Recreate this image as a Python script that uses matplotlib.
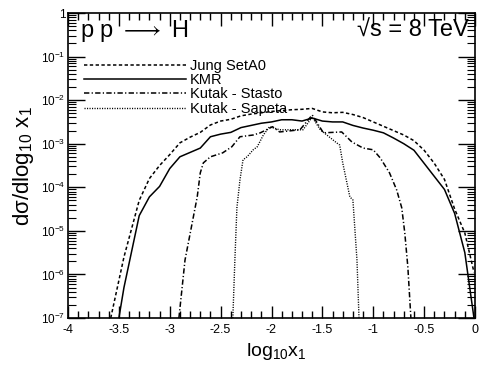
import numpy as np
import matplotlib
matplotlib.use("Agg")
import matplotlib.pyplot as plt
from matplotlib.ticker import FixedLocator, FuncFormatter, LogLocator, NullFormatter, MultipleLocator

plt.rcParams['font.family'] = ['Liberation Sans', 'DejaVu Sans']
plt.rcParams['mathtext.fontset'] = 'custom'
plt.rcParams['mathtext.rm'] = 'Liberation Sans'
plt.rcParams['mathtext.it'] = 'Liberation Sans'
plt.rcParams['mathtext.bf'] = 'Liberation Sans:bold'

# log10 x1 and log10 of dsigma/dlog10 x1
jung_x = [-3.58, -3.45, -3.3, -3.2, -3.1, -3.0, -2.9, -2.8, -2.7, -2.6, -2.5, -2.4,
          -2.3, -2.2, -2.1, -2.0, -1.9, -1.8, -1.7, -1.6, -1.5, -1.4, -1.3, -1.2,
          -1.1, -1.0, -0.9, -0.8, -0.7, -0.6, -0.5, -0.4, -0.3, -0.2, -0.1, -0.01]
jung_logy = [-7.0, -5.6, -4.3, -3.8, -3.5, -3.25, -2.98, -2.85, -2.74, -2.57, -2.48, -2.44,
             -2.36, -2.32, -2.29, -2.26, -2.24, -2.22, -2.21, -2.19, -2.27, -2.29, -2.28, -2.33,
             -2.40, -2.50, -2.60, -2.70, -2.80, -2.93, -3.15, -3.45, -3.82, -4.5, -5.05, -5.95]

kmr_x = [-3.5, -3.45, -3.4, -3.3, -3.2, -3.1, -3.0, -2.9, -2.8, -2.7, -2.6, -2.5, -2.4,
         -2.3, -2.2, -2.1, -2.0, -1.9, -1.8, -1.7, -1.6, -1.5, -1.4, -1.3, -1.2,
         -1.1, -1.0, -0.9, -0.8, -0.7, -0.6, -0.5, -0.4, -0.3, -0.2, -0.1, -0.01]
kmr_logy = [-7.0, -6.3, -5.75, -4.65, -4.22, -3.98, -3.57, -3.30, -3.20, -3.10, -2.84, -2.78, -2.74,
            -2.63, -2.58, -2.53, -2.50, -2.45, -2.45, -2.48, -2.41, -2.48, -2.50, -2.50, -2.58,
            -2.64, -2.69, -2.75, -2.87, -3.0, -3.15, -3.45, -3.75, -4.05, -4.6, -5.5, -7.0]

stasto_x = [-2.91, -2.85, -2.73, -2.70, -2.67, -2.60, -2.48, -2.39, -2.31, -2.18, -2.11,
            -1.99, -1.92, -1.72, -1.60, -1.49, -1.31, -1.21, -1.10, -1.0, -0.93, -0.84,
            -0.77, -0.72, -0.69, -0.66, -0.63]
stasto_logy = [-7.0, -5.67, -4.22, -3.67, -3.44, -3.30, -3.21, -3.07, -2.84, -2.80, -2.75,
               -2.61, -2.73, -2.68, -2.34, -2.75, -2.73, -2.96, -3.10, -3.14, -3.33, -3.67,
               -4.06, -4.47, -5.05, -5.83, -7.0]

sapeta_x = [-2.38, -2.36, -2.34, -2.31, -2.28, -2.24, -2.18, -2.14, -2.08, -2.02, -1.92,
            -1.69, -1.60, -1.52, -1.36, -1.33, -1.30, -1.23, -1.20, -1.18, -1.16, -1.14]
sapeta_logy = [-7.0, -5.67, -4.47, -3.83, -3.37, -3.30, -3.14, -3.07, -2.80, -2.61, -2.68,
               -2.68, -2.39, -2.68, -2.98, -3.03, -3.44, -4.22, -4.29, -4.98, -5.67, -7.0]

x_ticks = [-4, -3.5, -3, -2.5, -2, -1.5, -1, -0.5, 0]
x_tick_labels = ['-4', '-3.5', '-3', '-2.5', '-2', '-1.5', '-1', '-0.5', '0']

fig = plt.figure(figsize=(4.8, 3.71), dpi=100)
ax = fig.add_axes([68 / 480, 53 / 371, 407 / 480, 305 / 371])

ax.plot(jung_x, 10 ** np.array(jung_logy), color='black', lw=1.1,
        linestyle=(0, (2.2, 1.6)), label='Jung SetA0')
ax.plot(kmr_x, 10 ** np.array(kmr_logy), color='black', lw=1.1,
        linestyle='-', label='KMR')
ax.plot(stasto_x, 10 ** np.array(stasto_logy), color='black', lw=1.1,
        linestyle=(0, (3.5, 1.5, 0.8, 1.5)), label='Kutak - Stasto')
ax.plot(sapeta_x, 10 ** np.array(sapeta_logy), color='black', lw=1.0,
        linestyle=(0, (0.8, 1.0)), label='Kutak - Sapeta')

ax.set_yscale('log')
ax.set_xlim(-4, 0)
ax.set_ylim(1e-7, 1)

ax.xaxis.set_major_locator(FixedLocator(x_ticks))
ax.set_xticklabels(x_tick_labels)
ax.xaxis.set_minor_locator(MultipleLocator(0.1))


def ylab(v, pos):
    e = int(round(np.log10(v)))
    if e == 0:
        return '1'
    return r'$10^{%d}$' % e


ax.yaxis.set_major_locator(LogLocator(base=10, numticks=20))
ax.yaxis.set_major_formatter(FuncFormatter(ylab))
ax.yaxis.set_minor_locator(LogLocator(base=10, subs=np.arange(2, 10), numticks=20))
ax.yaxis.set_minor_formatter(NullFormatter())

ax.tick_params(which='both', direction='in', top=True, right=True, color='black')
ax.tick_params(axis='x', which='major', length=9, width=1, labelsize=9, pad=4)
ax.tick_params(axis='x', which='minor', length=5, width=1)
ax.tick_params(axis='y', which='major', length=12, width=1, labelsize=8.5, pad=2)
ax.tick_params(axis='y', which='minor', length=6, width=0.8)
for s in ax.spines.values():
    s.set_linewidth(1.2)

ax.legend(loc='upper left', bbox_to_anchor=(0.04, 0.85), frameon=False,
          fontsize=10.5, handlelength=7.0, handletextpad=0.25, labelspacing=0.02,
          borderaxespad=0, borderpad=0)

fig.text(80 / 480, 1 - 31 / 371, r'p p $\longrightarrow$ H', fontsize=17, va='center', ha='left')
fig.text(469 / 480, 1 - 31 / 371, '√s = 8 TeV', fontsize=17, va='center', ha='right')

fig.text(23 / 480, 1 - 166 / 371, r'd$\sigma$/dlog$_{10}$ x$_1$', fontsize=16,
         rotation=90, va='center', ha='center')
fig.text(276 / 480, 1 - 352 / 371, r'log$_{10}$x$_1$', fontsize=14, va='center', ha='center')

fig.savefig('out.png', dpi=100)
